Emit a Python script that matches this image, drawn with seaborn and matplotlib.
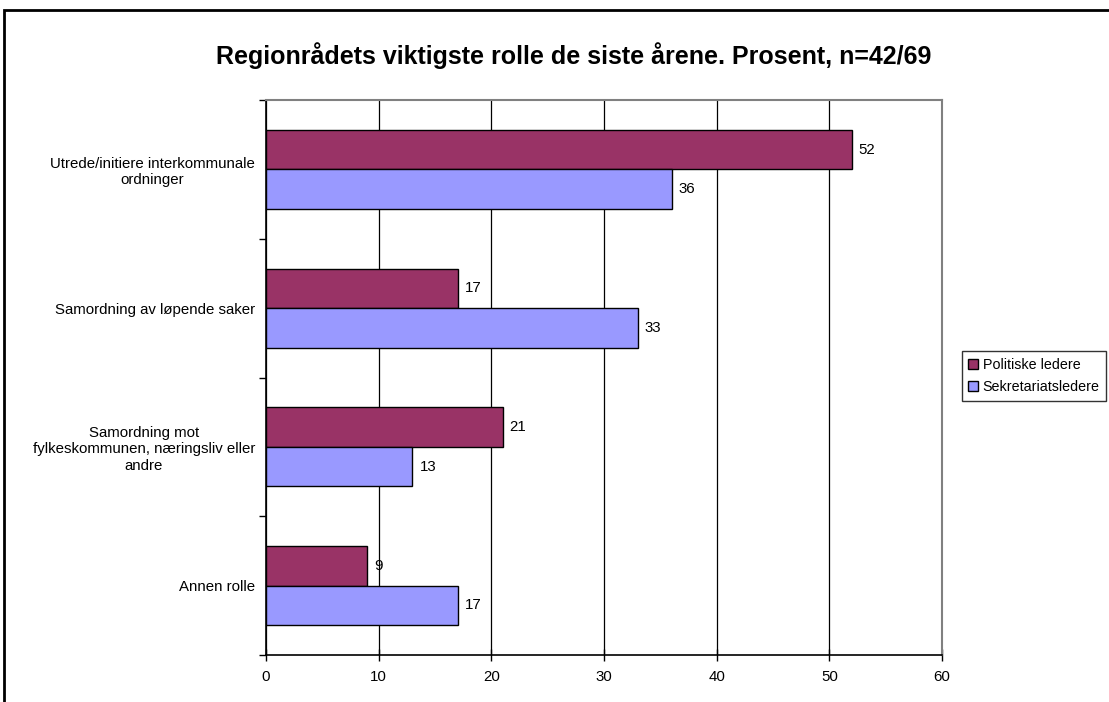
import matplotlib
matplotlib.use("Agg")
import matplotlib.pyplot as plt
import seaborn as sns
import pandas as pd
from matplotlib.patches import Patch
from matplotlib.lines import Line2D
from matplotlib.ticker import FixedLocator

categories = [
    "Utrede/initiere interkommunale\nordninger",
    "Samordning av løpende saker",
    "Samordning mot\nfylkeskommunen, næringsliv eller\nandre",
    "Annen rolle",
]
series_names = ["Politiske ledere", "Sekretariatsledere"]
politiske = [52, 17, 21, 9]
sekretariat = [36, 33, 13, 17]
colors = ["#993366", "#9999FF"]
x_ticks = [0, 10, 20, 30, 40, 50, 60]
title = "Regionrådets viktigste rolle de siste årene. Prosent, n=42/69"

df = pd.DataFrame({
    "kategori": categories * 2,
    "gruppe": [series_names[0]] * 4 + [series_names[1]] * 4,
    "verdi": politiske + sekretariat,
})

sns.set_theme(style="white")
plt.rcParams["font.family"] = ["Liberation Sans", "DejaVu Sans"]
plt.rcParams["text.color"] = "black"
plt.rcParams["xtick.color"] = "black"
plt.rcParams["ytick.color"] = "black"
plt.rcParams["axes.labelcolor"] = "black"

W, H = 1109, 702
fig = plt.figure(figsize=(W / 100, H / 100), dpi=100)
left, right, top, bottom = 266, 942, 100, 655
ax = fig.add_axes([left / W, 1 - bottom / H, (right - left) / W, (bottom - top) / H])

sns.barplot(data=df, y="kategori", x="verdi", hue="gruppe", order=categories,
            hue_order=series_names, palette=colors, orient="h", width=0.57,
            edgecolor="black", linewidth=1.0, saturation=1, ax=ax, legend=False)

for cont in ax.containers:
    ax.bar_label(cont, labels=[f"{int(v)}" for v in cont.datavalues],
                 padding=5, fontsize=10.8, color="black")

ax.set_xlim(0, 60)
ax.set_ylim(3.5, -0.5)
ax.set_xticks(x_ticks)
ax.set_xticklabels([str(t) for t in x_ticks], fontsize=10.8)
ax.set_xlabel("")
ax.set_ylabel("")
ax.xaxis.grid(True, color="black", linewidth=0.9)
ax.set_axisbelow(True)

ax.set_yticks(range(len(categories)))
ax.set_yticklabels(categories, fontsize=10.8, ha="right", multialignment="center")
ax.yaxis.set_minor_locator(FixedLocator([-0.5, 0.5, 1.5, 2.5, 3.5]))
ax.tick_params(axis="y", which="major", length=0, pad=8)
ax.tick_params(axis="y", which="minor", length=5, direction="out", width=1, color="black", left=True)
ax.tick_params(axis="x", which="major", length=8, direction="inout", width=1, color="black",
               bottom=True, pad=7)

for s in ["left", "bottom"]:
    ax.spines[s].set_color("black")
    ax.spines[s].set_linewidth(1.2)
for s in ["top", "right"]:
    ax.spines[s].set_visible(True)
    ax.spines[s].set_color("#808080")
    ax.spines[s].set_linewidth(1.5)

handles = [Patch(facecolor=c, edgecolor="black", linewidth=1) for c in colors]
leg = fig.legend(handles, series_names, loc="center left",
                 bbox_to_anchor=(962 / W, 1 - 376 / H), fontsize=10.3,
                 frameon=True, fancybox=False, handlelength=0.7, handleheight=0.7,
                 handletextpad=0.3, borderpad=0.45, labelspacing=0.6, borderaxespad=0)
leg.get_frame().set_edgecolor("black")
leg.get_frame().set_linewidth(1)

fig.text(574 / W, 1 - 56 / H, title, ha="center", va="center", fontsize=18, fontweight="bold")

fig.lines.append(Line2D([4 / W, 4 / W, 1.1], [-0.1, 1 - 10 / H, 1 - 10 / H],
                        transform=fig.transFigure, color="black", linewidth=2,
                        solid_joinstyle="miter", solid_capstyle="butt"))

fig.savefig("out.png", dpi=100)
